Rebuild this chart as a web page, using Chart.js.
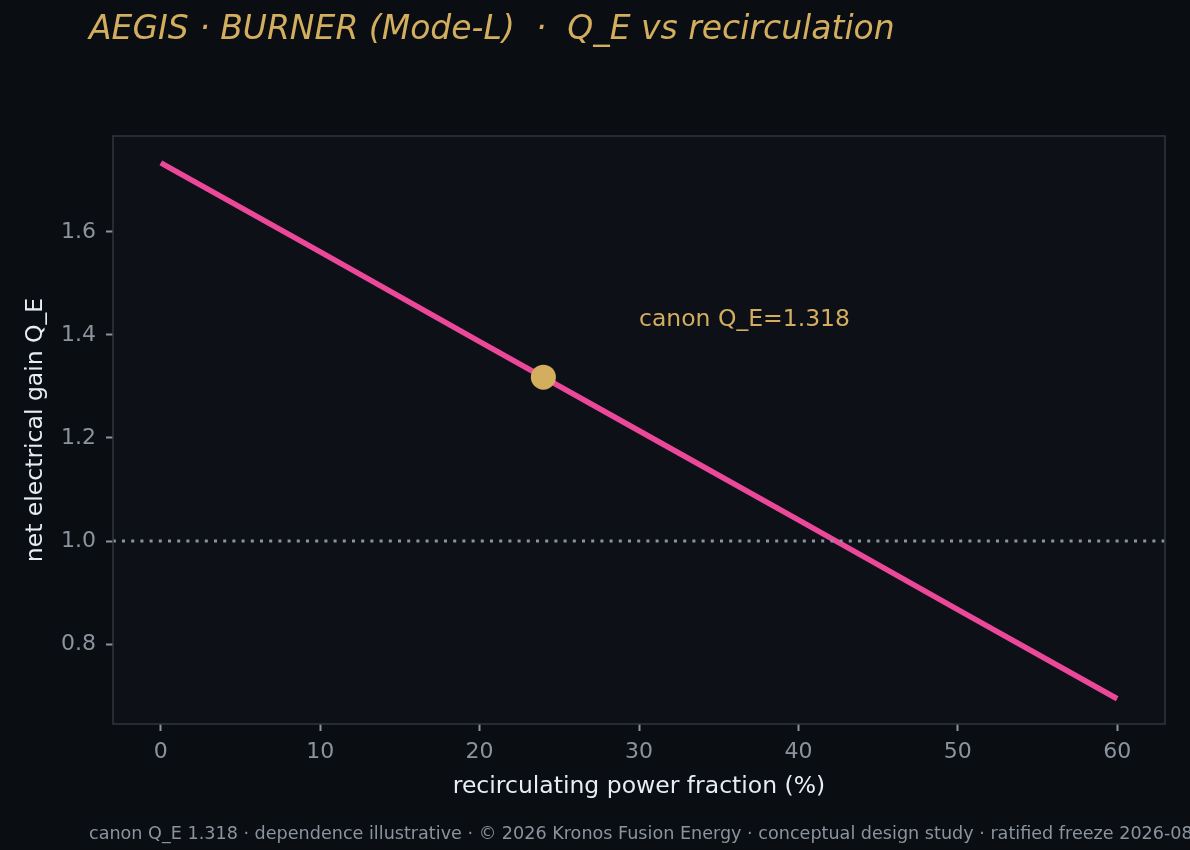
<!DOCTYPE html>
<html>
<head>
<meta charset="utf-8">
<script src="https://cdn.jsdelivr.net/npm/chart.js@4.4.1/dist/chart.umd.min.js"></script>
<style>
  html, body { margin: 0; padding: 0; background: #0a0d12; }
  #wrap { width: 1190px; height: 850px; }
</style>
</head>
<body>
<div id="wrap"><canvas id="qe" width="1190" height="850"></canvas></div>
<script>
// recirculating power fraction (%) vs net electrical gain
const fractions = [0, 10, 20, 30, 40, 50, 60];
const qeValues = [1.734, 1.561, 1.387, 1.214, 1.041, 0.867, 0.694];

// canon operating point
const canonX = [24];
const canonY = [1.318];
const canonLabel = 'canon Q_E=1.318';
const canonLabelAt = [30, 1.418];

// break-even reference
const breakEven = 1.0;
const xRange = [-3, 63];
const yRange = [0.645, 1.786];
const yTickValues = [0.8, 1.0, 1.2, 1.4, 1.6];

const titleText = 'AEGIS · BURNER (Mode-L)  ·  Q_E vs recirculation';
const footerText = 'canon Q_E 1.318 · dependence illustrative · © 2026 Kronos Fusion Energy · conceptual design study · ratified freeze 2026-08';

const FONT = "'DejaVu Sans', sans-serif";
const GOLD = '#d4ae5f';
const PINK = '#ec4899';
const MUTED = '#8b949e';

/**
 * 背景、边框、标题、注释
 */
const decorPlugin = {
  id: 'decor',
  beforeDraw(chart) {
    const { ctx, chartArea: a } = chart;
    ctx.save();
    ctx.fillStyle = '#0a0d12';
    ctx.fillRect(0, 0, chart.width, chart.height);
    ctx.fillStyle = '#0d1017';
    ctx.fillRect(a.left, a.top, a.right - a.left, a.bottom - a.top);
    ctx.restore();
  },
  afterDraw(chart) {
    const { ctx, chartArea: a, scales } = chart;
    ctx.save();
    ctx.strokeStyle = '#30363d';
    ctx.lineWidth = 1.5;
    ctx.strokeRect(a.left, a.top, a.right - a.left, a.bottom - a.top);

    ctx.textBaseline = 'alphabetic';
    ctx.textAlign = 'left';
    ctx.fillStyle = GOLD;
    ctx.font = 'italic 33px ' + FONT;
    ctx.fillText(titleText, 89, 39);

    ctx.font = '23.5px ' + FONT;
    ctx.fillText(canonLabel,
      scales.x.getPixelForValue(canonLabelAt[0]),
      scales.y.getPixelForValue(canonLabelAt[1]));

    ctx.fillStyle = MUTED;
    ctx.font = '17.6px ' + FONT;
    ctx.fillText(footerText, 89, 839);
    ctx.restore();
  }
};

const chart = new Chart(document.getElementById('qe'), {
  type: 'line',
  data: {
    datasets: [
      {
        label: 'break-even',
        data: xRange.map(x => ({ x: x, y: breakEven })),
        borderColor: MUTED,
        borderWidth: 3,
        borderDash: [3, 6.2],
        borderDashOffset: -9,
        pointRadius: 0,
        order: 1
      },
      {
        label: 'Q_E',
        data: fractions.map((x, i) => ({ x: x, y: qeValues[i] })),
        borderColor: PINK,
        borderWidth: 5.5,
        pointRadius: 0,
        tension: 0,
        order: 3
      },
      {
        label: 'canon',
        data: canonX.map((x, i) => ({ x: x, y: canonY[i] })),
        showLine: false,
        pointRadius: 12.5,
        pointBackgroundColor: GOLD,
        pointBorderWidth: 0,
        order: 2
      }
    ]
  },
  options: {
    responsive: false,
    devicePixelRatio: 1,
    animation: false,
    layout: { padding: { top: 136, right: 25, left: 0, bottom: 0 } },
    plugins: {
      legend: { display: false },
      tooltip: { enabled: false }
    },
    scales: {
      x: {
        type: 'linear',
        min: xRange[0],
        max: xRange[1],
        afterBuildTicks: (scale) => {
          scale.ticks = fractions.map(v => ({ value: v }));
        },
        afterFit: (scale) => { scale.height = 126; },
        ticks: {
          color: MUTED,
          font: { family: FONT, size: 22 },
          padding: 8
        },
        grid: {
          drawOnChartArea: false,
          drawTicks: true,
          tickLength: 7,
          tickColor: MUTED,
          tickWidth: 2
        },
        border: { display: false },
        title: {
          display: true,
          text: 'recirculating power fraction (%)',
          color: '#e6edf3',
          font: { family: FONT, size: 23.5 },
          padding: { top: 0, bottom: 49 }
        }
      },
      y: {
        type: 'linear',
        min: yRange[0],
        max: yRange[1],
        afterBuildTicks: (scale) => {
          scale.ticks = yTickValues.map(v => ({ value: v }));
        },
        afterFit: (scale) => { scale.width = 113; },
        ticks: {
          color: MUTED,
          font: { family: FONT, size: 22 },
          padding: 10,
          callback: (v) => v.toFixed(1)
        },
        grid: {
          drawOnChartArea: false,
          drawTicks: true,
          tickLength: 7,
          tickColor: MUTED,
          tickWidth: 2
        },
        border: { display: false },
        title: {
          display: true,
          text: 'net electrical gain Q_E',
          color: '#e6edf3',
          font: { family: FONT, size: 23.5 },
          padding: { top: 22, bottom: 0 }
        }
      }
    }
  },
  plugins: [decorPlugin]
});
</script>
</body>
</html>
